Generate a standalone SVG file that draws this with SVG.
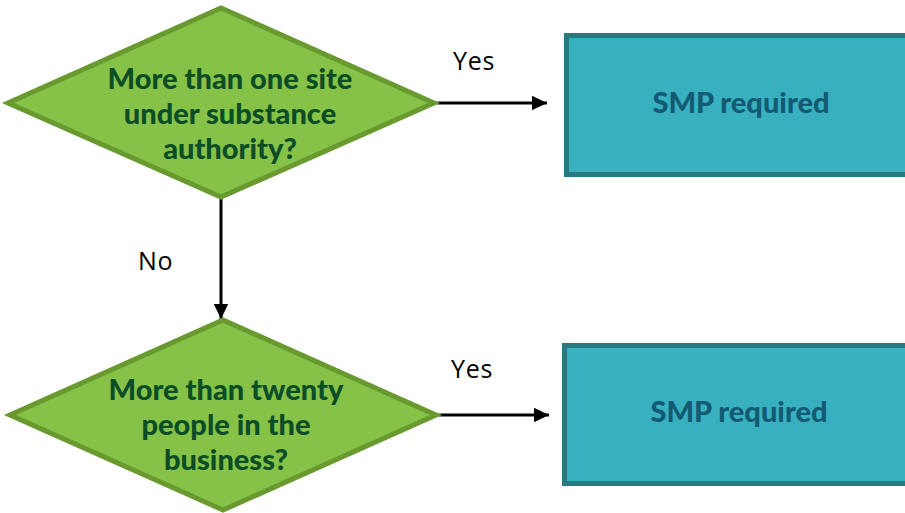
<svg xmlns="http://www.w3.org/2000/svg" width="905" height="513" viewBox="0 0 905 513">
<defs>
<style>
.dia{fill:#85c247;stroke:#689a30;stroke-width:5;stroke-linejoin:miter}
.box{fill:#38b0c0;stroke:#267a80;stroke-width:5}
.dt{font-family:Lato,"Open Sans",sans-serif;font-weight:900;font-size:29px;fill:#0b4d26;text-anchor:middle}
.bt{font-family:Lato,"Open Sans",sans-serif;font-weight:900;font-size:29px;fill:#135a73;text-anchor:middle}
.lb{font-family:"Open Sans",sans-serif;font-size:25px;letter-spacing:0.8px;fill:#000}
.ln{stroke:#000;stroke-width:3;fill:none}
</style>
<marker id="ah" markerWidth="6" markerHeight="6" refX="5" refY="3" orient="auto" markerUnits="strokeWidth">
<path d="M0,0.6 L5,3 L0,5.4 Z" fill="#000"/>
</marker>
</defs>
<g id="connectors">
<line class="ln" x1="437" y1="103" x2="547" y2="103" marker-end="url(#ah)"/>
<line class="ln" x1="221" y1="199" x2="221" y2="319" marker-end="url(#ah)"/>
<line class="ln" x1="439" y1="415" x2="549" y2="415" marker-end="url(#ah)"/>
<text class="lb" x="453" y="70">Yes</text>
<text class="lb" x="138" y="270">No</text>
<text class="lb" x="451" y="378">Yes</text>
</g>
<g id="decision1">
<polygon class="dia" points="221,8 434,103 221,197 8,103"/>
<text class="dt" x="230" y="89">More than one site</text>
<text class="dt" x="230" y="124">under substance</text>
<text class="dt" x="230" y="159">authority?</text>
</g>
<g id="decision2">
<polygon class="dia" points="223,320 436,415 223,510 10,415"/>
<text class="dt" x="226" y="400">More than twenty</text>
<text class="dt" x="226" y="435">people in the</text>
<text class="dt" x="226" y="470">business?</text>
</g>
<g id="result1">
<rect class="box" x="566.5" y="35.5" width="345" height="139"/>
<text class="bt" x="741" y="113">SMP required</text>
</g>
<g id="result2">
<rect class="box" x="564.5" y="345.5" width="345" height="138"/>
<text class="bt" x="739" y="422">SMP required</text>
</g>
</svg>
